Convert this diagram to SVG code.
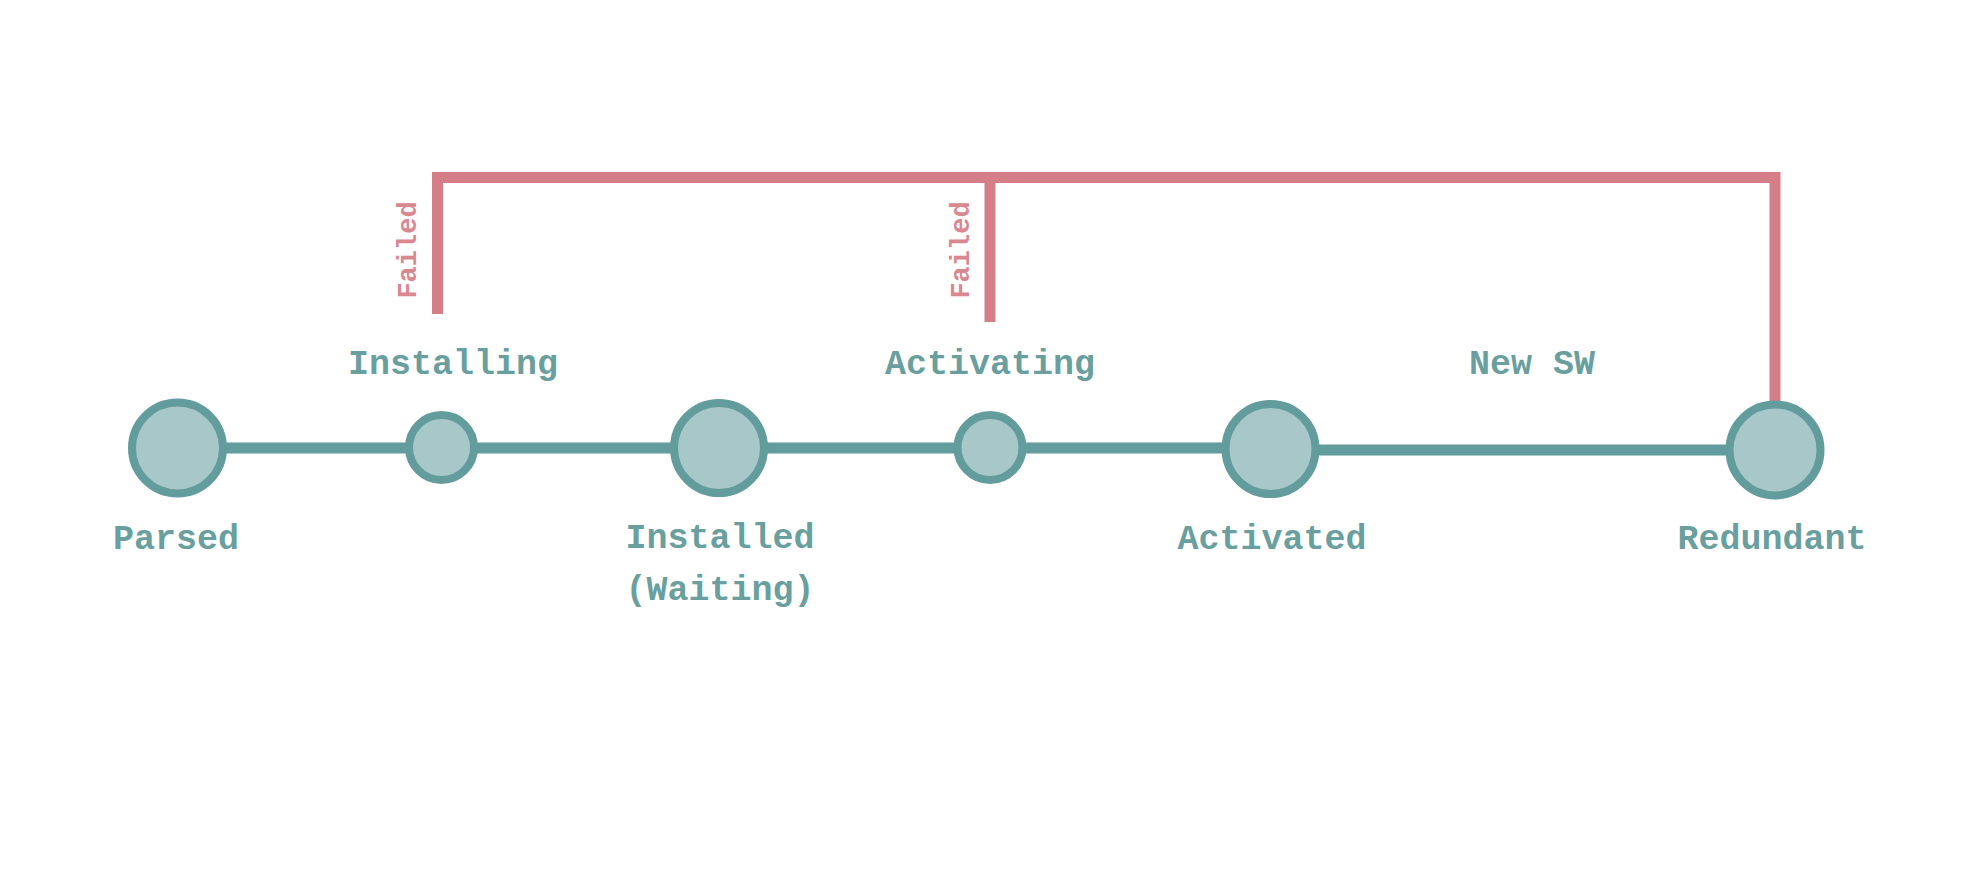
<svg xmlns="http://www.w3.org/2000/svg" width="1986" height="890" viewBox="0 0 1986 890">
<style>
.node{fill:#a7c7c9;stroke:#639c9c;stroke-width:8}
.lbl{font-family:"Liberation Mono","DejaVu Sans Mono",monospace;font-weight:bold;font-size:35px;fill:#6a9f9f;text-anchor:middle}
.fail{font-family:"Liberation Mono","DejaVu Sans Mono",monospace;font-weight:bold;font-size:27px;fill:#d98890;text-anchor:middle}
.flow{fill:none;stroke:#639c9c;stroke-width:11}
.back{fill:none;stroke:#d47f87;stroke-width:11;stroke-linejoin:miter}
</style>
<rect width="1986" height="890" fill="#ffffff"/>
<g id="connectors">
<path class="back" d="M437.5 314 V177.5 H1775 V404"/>
<path class="back" d="M990 177.5 V322"/>
<path class="flow" d="M177 448 H1270"/>
<path class="flow" d="M1270 450 H1775"/>
<text class="fail" transform="translate(416 250) rotate(-90)">Failed</text>
<text class="fail" transform="translate(969 250) rotate(-90)">Failed</text>
<text class="lbl" x="1532" y="374">New SW</text>
</g>
<g id="parsed"><circle class="node" cx="177.5" cy="448" r="45.5"/><text class="lbl" x="176" y="549">Parsed</text></g>
<g id="installing"><circle class="node" cx="441.5" cy="447.5" r="32.5"/><text class="lbl" x="453" y="374">Installing</text></g>
<g id="installed"><circle class="node" cx="719" cy="448" r="45"/><text class="lbl" x="720" y="548">Installed</text><text class="lbl" x="720" y="600">(Waiting)</text></g>
<g id="activating"><circle class="node" cx="990" cy="447.5" r="32.5"/><text class="lbl" x="990" y="374">Activating</text></g>
<g id="activated"><circle class="node" cx="1270.5" cy="449" r="45"/><text class="lbl" x="1272" y="549">Activated</text></g>
<g id="redundant"><circle class="node" cx="1775" cy="450" r="45.5"/><text class="lbl" x="1772" y="549">Redundant</text></g>
</svg>
